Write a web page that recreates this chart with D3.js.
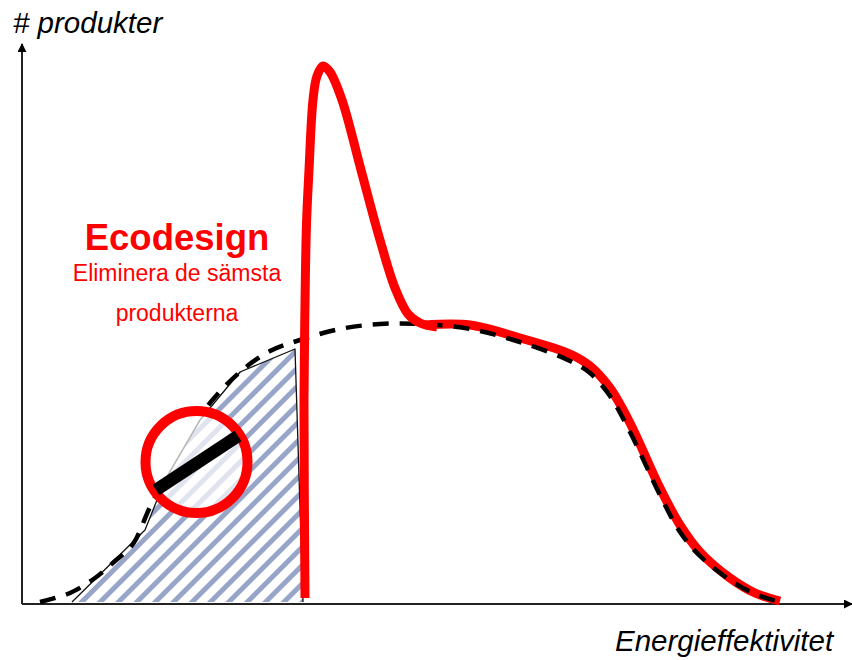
<!DOCTYPE html>
<html lang="en">
<head>
<meta charset="UTF-8" />
<title>Ecodesign</title>
<script src="https://d3js.org/d3.v7.js"></script>
<style>
    body { margin: 0; background: #fff; }
    svg { display: block; }
    text { font-family: "Liberation Sans", Arial, sans-serif; }
</style>
</head>
<body>
<script>
    var w = 852;
    var h = 660;

    // x = energy efficiency, y = number of products, both
    var marketX = [18, 48, 73, 93, 111, 128, 148, 168, 188, 218, 248, 278, 318, 358, 398, 448, 498, 548, 568, 588, 608, 638, 658, 678, 708, 733, 758];
    var marketY = [2, 11, 26, 43, 60, 97, 134, 172, 201, 232, 253, 264, 275, 280, 280, 275, 262, 243, 231, 208, 172, 109, 72, 48, 24, 10, 2];

    var peakX = [283, 282, 283, 284.5, 287, 291, 295, 301, 308, 320, 339, 358, 373, 386, 398, 415];
    var peakY = [6, 204, 300, 380, 434, 504, 528, 538, 532, 504, 434, 364, 316, 290, 281, 277];

    var tailX = [403, 448, 498, 548, 568, 588, 608, 638, 658, 678, 708, 733, 758];
    var tailY = [279, 279, 266, 250, 238, 216, 181, 116, 79, 52, 26, 11, 3];

    var bannedX = [50, 123, 143, 178, 218, 273, 281];
    var bannedY = [2, 74, 124, 184, 232, 255, 2];

    var title = "Ecodesign";
    var subtitle = ["Eliminera de sämsta", "produkterna"];
    var yLabel = "# produkter";
    var xLabel = "Energieffektivitet";

    var xScale = d3.scaleLinear().domain([0, 830]).range([22, 852]);
    var yScale = d3.scaleLinear().domain([0, 560]).range([604, 44]);

    var svg = d3.select("body").append("svg").attr("width", w).attr("height", h);
    var defs = svg.append("defs");

    var hatch = defs.append("pattern")
        .attr("id", "hatch")
        .attr("patternUnits", "userSpaceOnUse")
        .attr("width", 13)
        .attr("height", 13)
        .attr("patternTransform", "rotate(45)");
    hatch.append("rect").attr("width", 13).attr("height", 13).attr("fill", "#fff");
    hatch.append("rect").attr("width", 5).attr("height", 13).attr("fill", "#97a5c9");

    defs.append("clipPath")
        .attr("id", "signClip")
        .append("circle")
        .attr("cx", 196.5).attr("cy", 462).attr("r", 51);

    defs.append("marker")
        .attr("id", "arrow")
        .attr("viewBox", "0 0 10 10")
        .attr("refX", 9)
        .attr("refY", 5)
        .attr("markerUnits", "userSpaceOnUse")
        .attr("markerWidth", 9)
        .attr("markerHeight", 9)
        .attr("orient", "auto")
        .append("path")
        .attr("d", "M0,0L10,5L0,10Z")
        .attr("fill", "#000");

    function zip(xs, ys) {
        return xs.map(function (d, i) { return [d, ys[i]]; });
    }

    var curve = d3.line()
        .x(function (d) { return xScale(d[0]); })
        .y(function (d) { return yScale(d[1]); })
        .curve(d3.curveCatmullRom.alpha(0.5));

    // hatched area of the products that get removed
    var poly = d3.line()
        .x(function (d) { return xScale(d[0]); })
        .y(function (d) { return yScale(d[1]); });

    svg.append("path")
        .datum(zip(bannedX, bannedY))
        .attr("d", poly)
        .attr("fill", "url(#hatch)")
        .attr("stroke", "#111")
        .attr("stroke-width", 1.3)
        .attr("stroke-linejoin", "round");

    // axes
    svg.append("line")
        .attr("x1", xScale(0)).attr("y1", yScale(0))
        .attr("x2", xScale(0)).attr("y2", yScale(560))
        .attr("stroke", "#222").attr("stroke-width", 2)
        .attr("marker-end", "url(#arrow)");
    svg.append("line")
        .attr("x1", xScale(0)).attr("y1", yScale(0))
        .attr("x2", xScale(830)).attr("y2", yScale(0))
        .attr("stroke", "#222").attr("stroke-width", 2)
        .attr("marker-end", "url(#arrow)");

    // tail goes under the dashes, the peak goes over them
    svg.append("path")
        .datum(zip(tailX, tailY))
        .attr("d", curve)
        .attr("fill", "none")
        .attr("stroke", "#ff0000")
        .attr("stroke-width", 9);

    svg.append("path")
        .datum(zip(marketX, marketY))
        .attr("d", curve)
        .attr("fill", "none")
        .attr("stroke", "#000")
        .attr("stroke-width", 4.5)
        .attr("stroke-dasharray", "16 11");

    svg.append("path")
        .datum(zip(peakX, peakY))
        .attr("d", curve)
        .attr("fill", "none")
        .attr("stroke", "#ff0000")
        .attr("stroke-width", 9);

    // no-entry sign: white inside, the hatch shows through pale
    var sign = svg.append("g");
    sign.append("circle")
        .attr("cx", 196.5).attr("cy", 462).attr("r", 51)
        .attr("fill", "#fff");
    sign.append("path")
        .datum(zip(bannedX, bannedY))
        .attr("d", poly)
        .attr("clip-path", "url(#signClip)")
        .attr("fill", "url(#hatch)")
        .attr("opacity", 0.3)
        .attr("stroke", "#111")
        .attr("stroke-width", 1.5);
    sign.append("circle")
        .attr("cx", 196.5).attr("cy", 462).attr("r", 51)
        .attr("fill", "none")
        .attr("stroke", "#ff0000").attr("stroke-width", 10);
    sign.append("line")
        .attr("x1", 156).attr("y1", 490)
        .attr("x2", 238).attr("y2", 436)
        .attr("stroke", "#000").attr("stroke-width", 12.5);

    svg.append("text")
        .attr("x", 177).attr("y", 250)
        .attr("text-anchor", "middle")
        .attr("font-size", 36.5)
        .attr("font-weight", "bold")
        .attr("fill", "#ff0000")
        .text(title);

    svg.selectAll(".sub")
        .data(subtitle)
        .enter()
        .append("text")
        .attr("class", "sub")
        .attr("x", 177)
        .attr("y", function (d, i) { return 281 + i * 40; })
        .attr("text-anchor", "middle")
        .attr("font-size", 23)
        .attr("fill", "#ff0000")
        .text(function (d) { return d; });

    svg.append("text")
        .attr("x", 13).attr("y", 33)
        .attr("font-size", 29.5)
        .attr("font-style", "italic")
        .attr("fill", "#000")
        .text(yLabel);

    svg.append("text")
        .attr("x", 615).attr("y", 651)
        .attr("font-size", 29.5)
        .attr("font-style", "italic")
        .attr("fill", "#000")
        .text(xLabel);
</script>
</body>
</html>
